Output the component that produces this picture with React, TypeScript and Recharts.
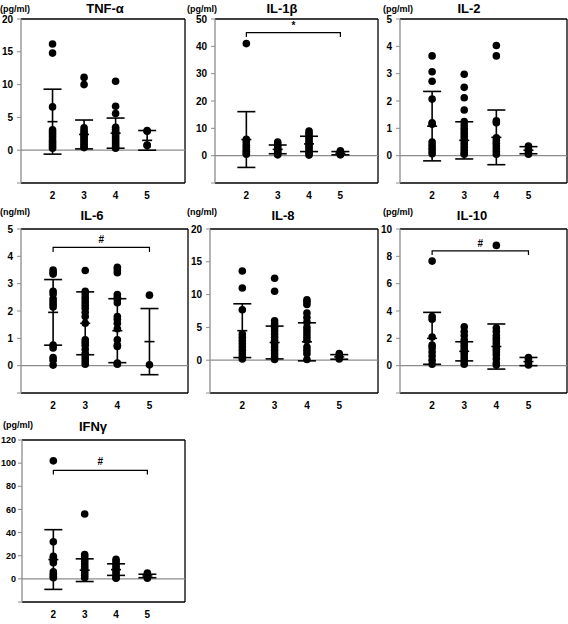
import React from 'react';
import { ComposedChart, Scatter, XAxis, YAxis, ReferenceLine, ErrorBar, Line } from 'recharts';

const groups = [2, 3, 4, 5];

// TNF-α (pg/ml)
const tnf2 = [16.2, 14.8, 6.6, 3.1, 2.8, 2.5, 2.2, 1.9, 1.5, 1.2, 0.9, 0.6, 0.3];
const tnf3 = [11.1, 10.0, 3.4, 3.0, 2.7, 2.4, 2.1, 1.8, 1.5, 1.2, 0.9, 0.6, 0.4];
const tnf4 = [10.5, 6.7, 5.6, 3.5, 3.2, 2.9, 2.6, 2.3, 2.0, 1.7, 1.4, 1.1, 0.8, 0.5, 0.3];
const tnf5 = [3.0, 2.9, 0.8, 0.7];
const tnfMean = [4.35, 2.4, 2.6, 1.5];
const tnfSd = [4.95, 2.2, 2.3, 1.5];

// IL-1β (pg/ml)
const il1b2 = [41, 6.0, 5.4, 4.6, 3.8, 3.0, 2.3, 1.6, 1.0, 0.5];
const il1b3 = [5.0, 4.3, 3.6, 2.9, 2.3, 1.7, 1.2, 0.7, 0.3];
const il1b4 = [9.0, 8.2, 7.3, 6.4, 5.5, 4.6, 3.8, 3.0, 2.2, 1.4, 0.7, 0.2];
const il1b5 = [1.8, 1.3, 0.9, 0.5, 0.3];
const il1bMean = [5.9, 2.3, 4.3, 0.9];
const il1bSd = [10.2, 1.6, 2.8, 0.6];

// IL-2 (pg/ml)
const il2_2 = [3.65, 3.07, 2.72, 2.07, 1.2, 1.15, 0.5, 0.38, 0.27, 0.17, 0.07];
const il2_3 = [2.98, 2.5, 2.12, 1.67, 1.25, 1.12, 1.0, 0.9, 0.8, 0.7, 0.6, 0.5, 0.4, 0.3, 0.2, 0.1, 0.05];
const il2_4 = [4.03, 3.65, 1.28, 1.2, 0.65, 0.55, 0.45, 0.35, 0.25, 0.15, 0.05];
const il2_5 = [0.35, 0.25, 0.13, 0.05];
const il2Mean = [1.08, 0.56, 0.67, 0.2];
const il2Sd = [1.27, 0.68, 1.0, 0.13];

// IL-6 (ng/ml)
const il6_2 = [3.5, 3.42, 3.35, 2.72, 2.62, 2.45, 2.35, 2.25, 2.15, 0.75, 0.65, 0.3, 0.2, 0.02];
const il6_3 = [3.48, 2.72, 2.62, 2.5, 2.4, 2.3, 2.2, 2.1, 1.95, 1.8, 1.55, 0.95, 0.85, 0.75, 0.6, 0.45, 0.35, 0.25, 0.15, 0.05];
const il6_4 = [3.6, 3.5, 3.4, 2.6, 2.5, 2.42, 2.3, 1.8, 1.7, 1.55, 1.35, 0.95, 0.75, 0.7, 0.1, 0.05];
const il6_5 = [2.58, 0.03];
const il6Mean = [1.95, 1.55, 1.28, 0.88];
const il6Sd = [1.2, 1.15, 1.17, 1.21];

// IL-8 (ng/ml)
const il8_2 = [13.6, 11.0, 7.7, 4.0, 3.5, 3.0, 2.5, 2.0, 1.5, 1.0, 0.5, 0.2];
const il8_3 = [12.5, 10.5, 6.0, 5.5, 5.0, 4.5, 4.0, 3.5, 3.0, 2.5, 2.0, 1.5, 1.0, 0.5, 0.1];
const il8_4 = [9.2, 8.9, 8.5, 7.2, 6.5, 5.8, 5.0, 4.5, 4.0, 3.5, 3.0, 2.0, 1.5, 1.0, 0.1];
const il8_5 = [1.0, 0.6, 0.2];
const il8Mean = [4.5, 2.7, 2.8, 0.5];
const il8Sd = [4.1, 2.5, 2.9, 0.35];

// IL-10 (pg/ml)
const il10_2 = [7.65, 3.6, 3.4, 2.1, 1.5, 1.3, 1.0, 0.7, 0.4, 0.1];
const il10_3 = [2.85, 2.5, 2.2, 1.9, 1.7, 1.5, 1.3, 1.1, 0.9, 0.7, 0.5, 0.3, 0.1];
const il10_4 = [8.8, 2.75, 2.5, 2.2, 2.0, 1.8, 1.6, 1.4, 1.2, 1.0, 0.8, 0.5, 0.2, 0.05];
const il10_5 = [0.6, 0.5, 0.2, 0.05];
const il10Mean = [2.0, 1.05, 1.4, 0.3];
const il10Sd = [1.9, 0.7, 1.65, 0.3];

// IFNγ (pg/ml)
const ifn2 = [102, 32, 19.5, 18, 16, 14, 6, 4, 2, 1];
const ifn3 = [56, 21, 19, 17, 15, 13, 11, 9, 7, 5, 3, 1];
const ifn4 = [17, 15, 13, 11, 9, 7, 5, 3, 1, 0.5];
const ifn5 = [5, 3.5, 2, 0.5];
const ifnMean = [16.7, 7.5, 8, 2.5];
const ifnSd = [25.8, 9.8, 5, 1.5];

const FONT = '"Liberation Sans", Arial, sans-serif';

type Bracket = { y: number; drop: number; symY: number; sym: string };
type PanelProps = {
  x0: number; x1: number; y0: number; y1: number;
  yDomain: [number, number]; yTicks: number[];
  title: string; titleX: number; titleY: number;
  unit: string; unitX: number; unitY: number;
  values: number[][]; mean: number[]; sd: number[];
  bracket?: Bracket;
  yFont?: number; yMargin?: number;
};

const Dot = (props: any) => <circle cx={props.cx} cy={props.cy} r={3.8} fill="#000" />;
const MeanTick = (props: any) => (
  <line x1={props.cx - 5} x2={props.cx + 5} y1={props.cy} y2={props.cy} stroke="#000" strokeWidth={1.6} />
);

function Panel(p: PanelProps) {
  const W = p.x1 - p.x0;
  const H = p.y1 - p.y0;
  const YW = 26;
  const XH = 24;
  const MT = 10;
  const ML = 6;
  const dots = p.values.flatMap((arr, i) => arr.map((v) => ({ x: groups[i], y: v })));
  const stats = groups.map((g, i) => ({ x: g, y: p.mean[i], err: p.sd[i] }));
  const xDomain: [number, number] = [1, 6.2];
  const b = p.bracket;
  const bracketData = b
    ? [
        { x: 2, y: b.y - b.drop },
        { x: 2, y: b.y },
        { x: 5, y: b.y },
        { x: 5, y: b.y - b.drop },
      ]
    : [];
  const SymShape = (props: any) => (
    <text x={props.cx} y={props.cy} textAnchor="middle" dominantBaseline="central" fontSize={10} fontWeight="bold" fontFamily={FONT}>
      {b ? b.sym : ''}
    </text>
  );
  return (
    <>
      <div style={{ position: 'absolute', left: p.titleX - 50, top: p.titleY - 8, width: 100, textAlign: 'center', fontSize: 13, fontWeight: 'bold', lineHeight: '16px', fontFamily: FONT }}>
        {p.title}
      </div>
      <div style={{ position: 'absolute', left: p.unitX, top: p.unitY - 6, fontSize: 9, fontWeight: 'bold', lineHeight: '12px', fontFamily: FONT, whiteSpace: 'nowrap' }}>
        {p.unit}
      </div>
      <div style={{ position: 'absolute', left: p.x0 - YW - ML, top: p.y0 - MT }}>
        <ComposedChart width={W + YW + ML + 2} height={H + MT + XH} margin={{ top: MT, right: 2, bottom: 0, left: ML }}>
          <XAxis
            type="number" dataKey="x" domain={xDomain} ticks={groups} interval={0} allowDataOverflow
            height={XH} tickSize={0} tickMargin={9} tickLine={false}
            axisLine={{ stroke: '#000', strokeWidth: 1.3 }}
            tick={{ fill: '#000', fontSize: 10, fontWeight: 'bold', fontFamily: FONT }}
          />
          <YAxis
            type="number" domain={p.yDomain} ticks={p.yTicks} interval={0} allowDataOverflow width={YW}
            tickSize={4} tickMargin={p.yMargin ?? 4}
            tickFormatter={(v: number) => (v < 0 ? '' : String(v))}
            axisLine={{ stroke: '#8c8c8c', strokeWidth: 1.3 }} tickLine={{ stroke: '#8c8c8c' }}
            tick={{ fill: '#000', fontSize: p.yFont ?? 10, fontWeight: 'bold', fontFamily: FONT }}
          />
          <ReferenceLine y={p.yDomain[1]} stroke="#000" strokeWidth={1.3} />
          <ReferenceLine x={xDomain[1]} stroke="#000" strokeWidth={1.3} />
          <ReferenceLine y={0} stroke="#8c8c8c" strokeWidth={1.2} />
          {b && (
            <Line data={bracketData} dataKey="y" type="linear" stroke="#000" strokeWidth={1.2} dot={false} activeDot={false} isAnimationActive={false} />
          )}
          {b && <Scatter data={[{ x: 3.5, y: b.symY }]} dataKey="y" shape={SymShape} isAnimationActive={false} />}
          <Scatter data={dots} dataKey="y" shape={Dot} isAnimationActive={false} />
          <Scatter data={stats} dataKey="y" shape={MeanTick} isAnimationActive={false}>
            <ErrorBar dataKey="err" direction="y" width={9} stroke="#000" strokeWidth={1.6} />
          </Scatter>
        </ComposedChart>
      </div>
    </>
  );
}

export default function App() {
  return (
    <div style={{ position: 'absolute', left: 0, top: 0, width: 568, height: 624, background: '#fff', overflow: 'hidden' }}>
      <Panel x0={21} x1={185} y0={19} y1={183} yDomain={[-5, 20]} yTicks={[-5, 0, 5, 10, 15, 20]}
        title="TNF-α" titleX={105} titleY={9} unit="(pg/ml)" unitX={0} unitY={9}
        values={[tnf2, tnf3, tnf4, tnf5]} mean={tnfMean} sd={tnfSd} />
      <Panel x0={215} x1={378} y0={19} y1={183} yDomain={[-10, 50]} yTicks={[-10, 0, 10, 20, 30, 40, 50]}
        title="IL-1β" titleX={282} titleY={9} unit="(pg/ml)" unitX={187} unitY={9}
        values={[il1b2, il1b3, il1b4, il1b5]} mean={il1bMean} sd={il1bSd}
        bracket={{ y: 45, drop: 1.6, symY: 47.6, sym: '*' }} />
      <Panel x0={400} x1={567} y0={19} y1={183} yDomain={[-1, 5]} yTicks={[-1, 0, 1, 2, 3, 4, 5]}
        title="IL-2" titleX={469} titleY={9} unit="(pg/ml)" unitX={383} unitY={9}
        values={[il2_2, il2_3, il2_4, il2_5]} mean={il2Mean} sd={il2Sd} />
      <Panel x0={21} x1={188} y0={229} y1={393} yDomain={[-1, 5]} yTicks={[-1, 0, 1, 2, 3, 4, 5]}
        title="IL-6" titleX={92} titleY={216} unit="(ng/ml)" unitX={0} unitY={212}
        values={[il6_2, il6_3, il6_4, il6_5]} mean={il6Mean} sd={il6Sd}
        bracket={{ y: 4.33, drop: 0.17, symY: 4.6, sym: '#' }} />
      <Panel x0={210} x1={378} y0={229} y1={393} yDomain={[-5, 20]} yTicks={[-5, 0, 5, 10, 15, 20]}
        title="IL-8" titleX={283} titleY={216} unit="(ng/ml)" unitX={187} unitY={212}
        values={[il8_2, il8_3, il8_4, il8_5]} mean={il8Mean} sd={il8Sd} />
      <Panel x0={400} x1={567} y0={229} y1={393} yDomain={[-2, 10]} yTicks={[-2, 0, 2, 4, 6, 8, 10]}
        title="IL-10" titleX={472} titleY={216} unit="(pg/ml)" unitX={383} unitY={212}
        values={[il10_2, il10_3, il10_4, il10_5]} mean={il10Mean} sd={il10Sd}
        bracket={{ y: 8.4, drop: 0.3, symY: 8.95, sym: '#' }} />
      <Panel x0={22} x1={185} y0={440} y1={602} yDomain={[-20, 120]} yTicks={[-20, 0, 20, 40, 60, 80, 100, 120]}
        title="IFNγ" titleX={93} titleY={427} unit="(pg/ml)" unitX={3} unitY={425}
        values={[ifn2, ifn3, ifn4, ifn5]} mean={ifnMean} sd={ifnSd}
        bracket={{ y: 93.7, drop: 3.5, symY: 101, sym: '#' }} yFont={9} yMargin={2} />
    </div>
  );
}
